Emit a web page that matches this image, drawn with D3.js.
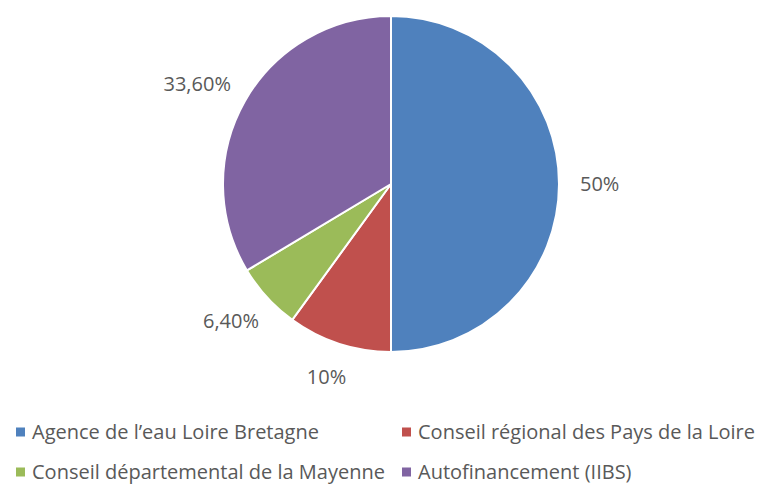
<!DOCTYPE html>
<html>
<head>
<meta charset="utf-8">
<script src="https://cdn.jsdelivr.net/npm/d3@7"></script>
<style>
  body { margin: 0; background: #fff; }
  text { font-family: "Open Sans", Lato, sans-serif; }
</style>
</head>
<body>
<div id="chart"></div>
<script>
// data
const categories = ["Agence de l\u2019eau Loire Bretagne", "Conseil régional des Pays de la Loire",
    "Conseil départemental de la Mayenne", "Autofinancement (IIBS)"];
const values = [50, 10, 6.4, 33.6];
const valueLabels = ["50%", "10%", "6,40%", "33,60%"];
const colors = ["#4F81BD", "#C0504D", "#9BBB59", "#8064A2"];

const width = 759, height = 484;
const cx = 391, cy = 184, radius = 168;
const labelRadius = 189;

const svg = d3.select("#chart").append("svg")
    .attr("width", width)
    .attr("height", height);

const pie = d3.pie().sort(null).value(d => d)(values);
const arc = d3.arc().innerRadius(0).outerRadius(radius);
const labelArc = d3.arc().innerRadius(labelRadius).outerRadius(labelRadius);

const group = svg.append("g")
    .attr("transform", "translate(" + cx + "," + cy + ")");

group.selectAll("path")
    .data(pie)
    .enter()
    .append("path")
    .attr("d", arc)
    .style("fill", (d, i) => colors[i])
    .style("stroke", "#fff")
    .style("stroke-width", 2);

// outside-end labels: push the box outward by half its size
group.selectAll(".lbl")
    .data(pie)
    .enter()
    .append("text")
    .attr("class", "lbl")
    .attr("text-anchor", "middle")
    .attr("dy", "0.35em")
    .attr("font-size", 20)
    .style("fill", "#595959")
    .text((d, i) => valueLabels[i])
    .attr("transform", function(d) {
        const c = labelArc.centroid(d);
        const a = (d.startAngle + d.endAngle) / 2;
        const b = this.getBBox();
        const x = c[0] + Math.sin(a) * b.width / 2;
        const y = c[1] - Math.cos(a) * b.height / 2;
        return "translate(" + x + "," + y + ")";
    });

// legend, two rows, two columns
const legendCols = [16, 402];
const legendRows = [432, 472];
const legend = svg.append("g")
    .selectAll("g")
    .data(categories)
    .enter()
    .append("g")
    .attr("transform", (d, i) => "translate(" + legendCols[i % 2] + "," + legendRows[Math.floor(i / 2)] + ")");

legend.append("rect")
    .attr("x", 0)
    .attr("y", -4.5)
    .attr("width", 9)
    .attr("height", 9)
    .style("fill", (d, i) => colors[i]);

legend.append("text")
    .attr("x", 16)
    .attr("dy", "0.35em")
    .attr("font-size", 20)
    .style("fill", "#595959")
    .text(d => d);
</script>
</body>
</html>
